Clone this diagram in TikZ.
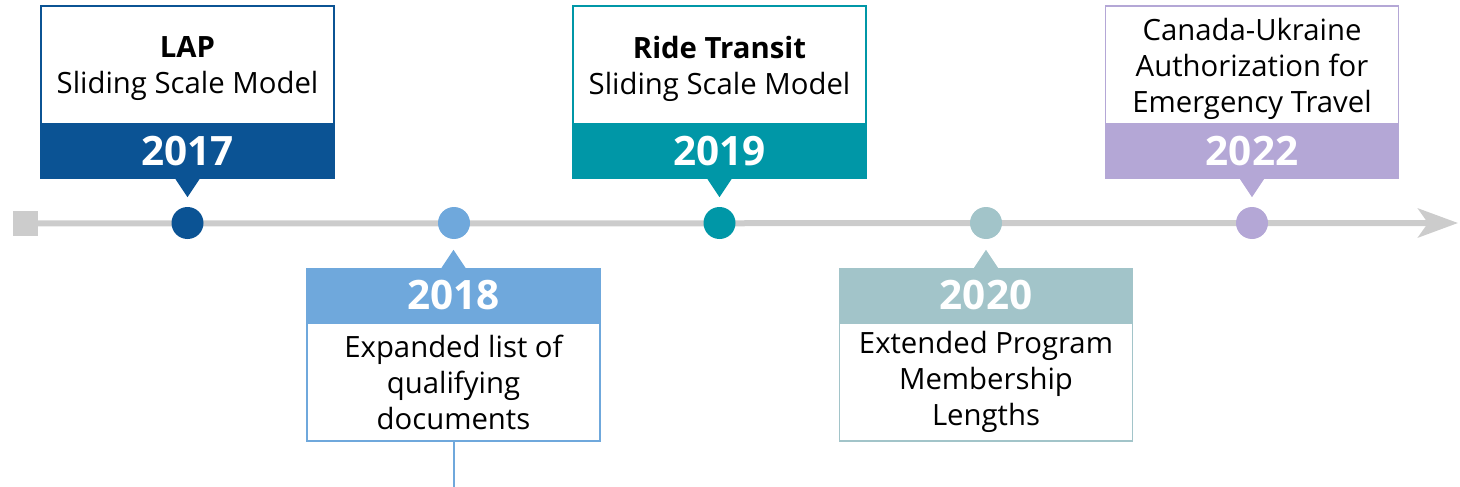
\documentclass[tikz,border=0pt]{standalone}
\usepackage{fontspec}
\setmainfont{Open Sans}
\usetikzlibrary{arrows.meta}
\definecolor{cA}{HTML}{0B5394}
\definecolor{cB}{HTML}{6FA8DC}
\definecolor{cC}{HTML}{0097A7}
\definecolor{cD}{HTML}{A2C4C9}
\definecolor{cE}{HTML}{B4A7D6}
\definecolor{tlgray}{HTML}{CCCCCC}
\begin{document}
\begin{tikzpicture}[x=1pt,y=-1pt,
  textbox/.style={draw=#1, fill=white, line width=1.5pt, minimum width=293pt, minimum height=118pt,
     inner sep=0pt},
  boxtext/.style={inner sep=0pt, align=center, font=\fontsize{29.3}{36}\selectfont, text=black},
  yearbox/.style={fill=#1, minimum width=294.5pt, minimum height=55pt, inner sep=0pt,
     font=\fontsize{40.5}{48}\selectfont\bfseries, text=white},
  evdot/.style={circle, fill=#1, minimum size=32pt, inner sep=0pt},
  startsq/.style={fill=tlgray, minimum size=25pt, inner sep=0pt},
  tline/.style={draw=tlgray, line width=6pt}
]
\useasboundingbox (0,0) rectangle (1460,487);
% timeline
\node[startsq] (start) at (25.5,223.5) {};
\coordinate (tend) at (1458,223);
\draw[tline, -{Stealth[length=40pt,width=29pt,inset=10pt]}] (start.center) -- (tend);
% dots
\node[evdot=cA] (d17) at (187.5,223) {};
\node[evdot=cB] (d18) at (454,223) {};
\node[evdot=cC] (d19) at (719.5,223) {};
\node[evdot=cD] (d20) at (986,223) {};
\node[evdot=cE] (d22) at (1252,223) {};
% 2017
\node[yearbox=cA] (y17) at (187.5,151.5) {2017};
\node[textbox=cA] (t17) at (187.5,65) {};
\node[boxtext] (l17) at ([yshift=-4pt]t17.center) {\textbf{LAP}\\Sliding Scale Model};
\fill[cA] ([xshift=-12pt]y17.south) -- ([xshift=12pt]y17.south) -- ([yshift=-18pt]y17.south) -- cycle;
% 2019
\node[yearbox=cC] (y19) at (719.5,151.5) {2019};
\node[textbox=cC] (t19) at (719.5,65) {};
\node[boxtext] (l19) at ([yshift=-4pt]t19.center) {\textbf{Ride Transit}\\Sliding Scale Model};
\fill[cC] ([xshift=-12pt]y19.south) -- ([xshift=12pt]y19.south) -- ([yshift=-18pt]y19.south) -- cycle;
% 2022
\node[yearbox=cE] (y22) at (1252,151.5) {2022};
\node[textbox=cE] (t22) at (1252,65) {};
\node[boxtext] (l22) at ([yshift=-4pt]t22.center) {Canada-Ukraine\\Authorization for\\Emergency Travel};
\fill[cE] ([xshift=-12pt]y22.south) -- ([xshift=12pt]y22.south) -- ([yshift=-18pt]y22.south) -- cycle;
% 2018
\coordinate (e18) at (453.5,487);
\node[textbox=cB] (t18) at (453.5,382) {};
\node[boxtext] (l18) at (t18.center) {Expanded list of\\qualifying\\documents};
\draw[cB, line width=2pt] (t18.south) -- (e18);
\node[yearbox=cB] (y18) at (453.5,295.5) {2018};
\fill[cB] ([xshift=-12pt]y18.north) -- ([xshift=12pt]y18.north) -- ([yshift=18pt]y18.north) -- cycle;
% 2020
\node[textbox=cD] (t20) at (986,382) {};
\node[boxtext] (l20) at (t20.center) {Extended Program\\Membership\\Lengths};
\node[yearbox=cD] (y20) at (986,295.5) {2020};
\fill[cD] ([xshift=-12pt]y20.north) -- ([xshift=12pt]y20.north) -- ([yshift=18pt]y20.north) -- cycle;
\end{tikzpicture}
\end{document}
